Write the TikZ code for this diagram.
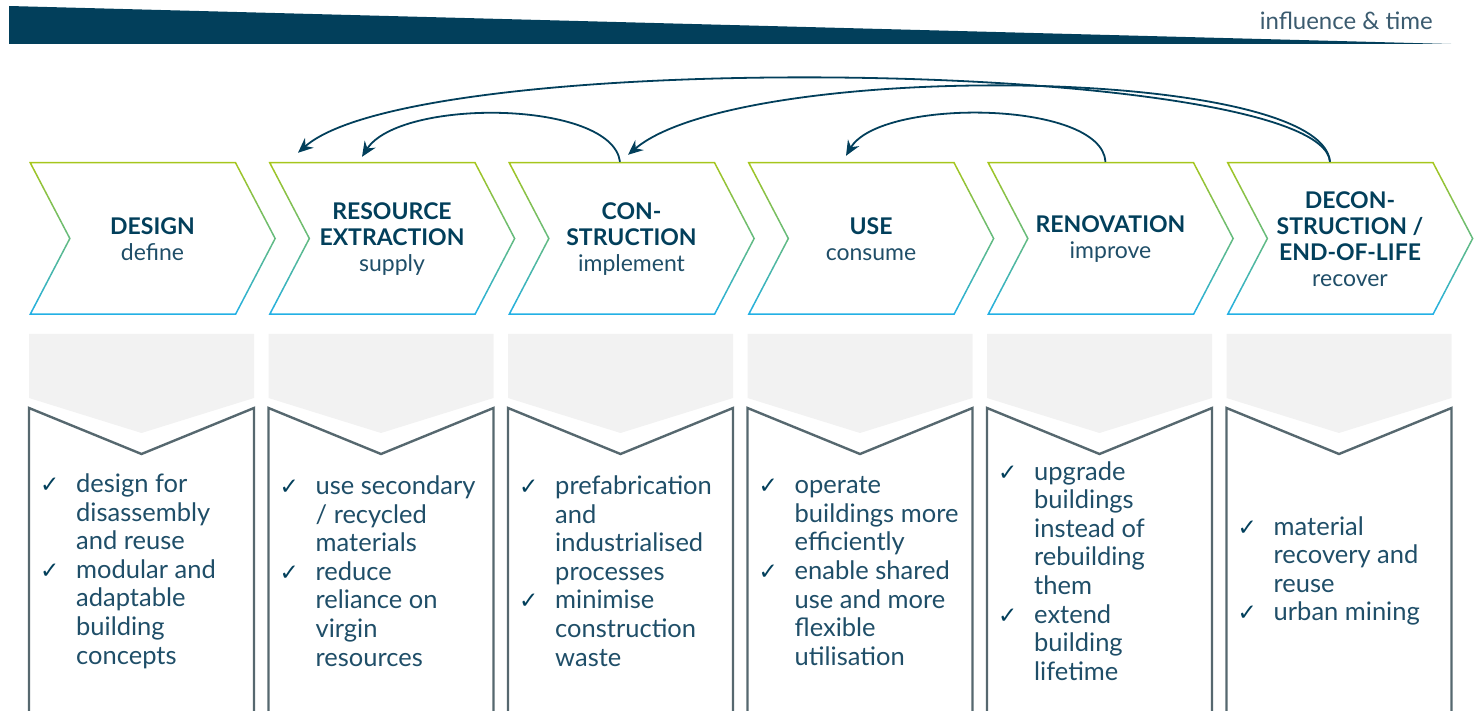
\documentclass[tikz,border=0pt]{standalone}
\usepackage{fontspec}
\setmainfont{Lato}
\newfontfamily\symfont{DejaVu Sans}
\usetikzlibrary{arrows.meta}

\definecolor{navy}{HTML}{023F5B}
\definecolor{textblue}{HTML}{1F4E68}
\definecolor{titlegrey}{HTML}{3B5B6F}
\definecolor{boxgrey}{HTML}{56686F}
\definecolor{lightgrey}{HTML}{F2F2F2}
\definecolor{limegreen}{HTML}{A6C61C}
\definecolor{skyblue}{HTML}{22B0E6}

\newcommand{\hd}[1]{{\bfseries\color{navy}#1}}
\newcommand{\ck}{\makebox[36pt][l]{\color{navy}\symfont\fontsize{23}{23}\selectfont ✓}}
\newcommand{\nock}{\hspace*{36pt}}

\begin{document}
\begin{tikzpicture}[x=1pt,y=-1pt,
    chevbody/.style={minimum width=207pt,minimum height=153pt,inner sep=0pt,
      align=center,text=textblue,font=\fontsize{23}{26}\selectfont},
    chevring/.style={top color=limegreen,bottom color=skyblue,even odd rule},
    greytab/.style={fill=lightgrey},
    listbox/.style={draw=boxgrey,line width=2.4pt},
    bodytext/.style={anchor=west,inner sep=0pt,align=left,text=textblue,
      font=\fontsize{25.5}{28.6}\selectfont},
    backarrow/.style={draw=navy,line width=1.8pt,
      -{Stealth[length=15pt,width=13pt,inset=5pt]}}]
    \useasboundingbox (0,0) rectangle (1476,711);

    % Banner on top
    \fill[navy] (9,6) -- (1451,44) -- (9,44) -- cycle;
    \node[anchor=base east,inner sep=0pt,text=titlegrey,font=\fontsize{24}{24}\selectfont]
        (influence) at (1433,29.5) {influence \& time};

    % Chevron outlines, grey tabs and list boxes
    \foreach \i in {0,...,5}{
        \pgfmathsetmacro\lx{29+239.5*\i}
        \shade[chevring] (\lx,162) -- ++(207,0) -- ++(40,76.5) -- ++(-40,76.5)
            -- ++(-207,0) -- ++(40,-76.5) -- cycle
            ({\lx+2.5},163.5) -- ++(203.6,0) -- ++(39.2,75) -- ++(-39.2,75)
            -- ++(-203.6,0) -- ++(39.2,-75) -- cycle;
        \fill[greytab] (\lx,334) -- ++(225,0) -- ++(0,64) -- ++(-112.5,35)
            -- ++(-112.5,-35) -- cycle;
        \draw[listbox] (\lx,713) -- (\lx,408) -- ++(112.5,46) -- ++(112.5,-46)
            -- ++(0,305);
    }

    % Phases
    \node[chevbody] (design) at (152.5,239.5) {\hd{DESIGN}\\define};
    \node[chevbody] (extraction) at (392,239.5) {\hd{RESOURCE}\\\hd{EXTRACTION}\\supply};
    \node[chevbody] (construction) at (631.5,239.5) {\hd{CON-}\\\hd{STRUCTION}\\implement};
    \node[chevbody] (use) at (871,239.5) {\hd{USE}\\consume};
    \node[chevbody] (renovation) at (1110.5,239.5) {\hd{RENOVATION}\\improve};
    \node[chevbody] (deconstruction) at (1350,239.5)
        {\hd{DECON-}\\\hd{STRUCTION /}\\\hd{END-OF-LIFE}\\recover};

    % Feedback loops
    \draw[backarrow] ([xshift=-11.5pt,yshift=1pt]construction.north)
        .. controls +(-8,-62) and +(38,-59) .. ([xshift=-30pt,yshift=6pt]extraction.north);
    \draw[backarrow] ([xshift=-20pt,yshift=1pt]deconstruction.north)
        .. controls +(-8,-102) and +(122,-108) .. ([xshift=-94pt,yshift=10pt]extraction.north);
    \draw[backarrow] ([xshift=-20pt,yshift=1pt]deconstruction.north)
        .. controls +(-8,-97) and +(112,-95) .. ([xshift=-3.5pt,yshift=8pt]construction.north);
    \draw[backarrow] ([xshift=-5pt,yshift=1pt]renovation.north)
        .. controls +(-4,-62) and +(34,-58) .. ([xshift=-25pt,yshift=7pt]use.north);

    % Measures per phase
    \node[bodytext] (designlist) at (40,571)
        {\ck design for\\\nock disassembly\\\nock and reuse\\\ck modular and\\
         \nock adaptable\\\nock building\\\nock concepts};
    \node[bodytext] (extractionlist) at (279.5,571)
        {\ck use secondary\\\nock / recycled\\\nock materials\\\ck reduce\\
         \nock reliance on\\\nock virgin\\\nock resources};
    \node[bodytext] (constructionlist) at (519,571)
        {\ck prefabrication\\\nock and\\\nock industrialised\\\nock processes\\
         \ck minimise\\\nock construction\\\nock waste};
    \node[bodytext] (uselist) at (758.5,571)
        {\ck operate\\\nock buildings more\\\nock efficiently\\\ck enable shared\\
         \nock use and more\\\nock flexible\\\nock utilisation};
    \node[bodytext] (renovationlist) at (998,571)
        {\ck upgrade\\\nock buildings\\\nock instead of\\\nock rebuilding\\
         \nock them\\\ck extend\\\nock building\\\nock lifetime};
    \node[bodytext] (deconstructionlist) at (1237.5,571)
        {\ck material\\\nock recovery and\\\nock reuse\\\ck urban mining};
\end{tikzpicture}
\end{document}
